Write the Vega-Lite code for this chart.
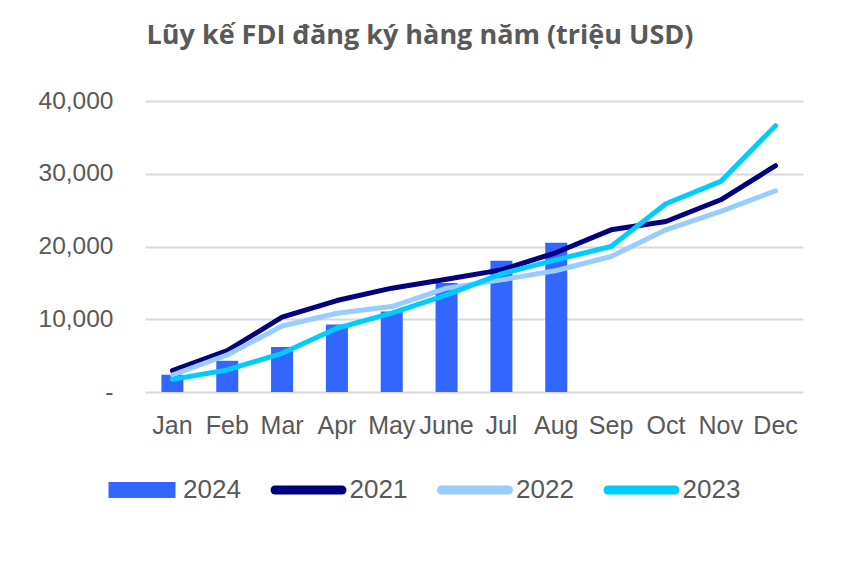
{
  "$schema": "https://vega.github.io/schema/vega-lite/v6.json",
  "width": 658,
  "height": 291,
  "autosize": "none",
  "padding": {"left": 145, "top": 101, "right": 42, "bottom": 179},
  "background": "white",
  "title": {
    "text": "Lũy kế FDI đăng ký hàng năm (triệu USD)",
    "font": "Open Sans",
    "fontSize": 27,
    "fontWeight": "bold",
    "color": "#595959",
    "anchor": "middle",
    "frame": "group",
    "baseline": "alphabetic",
    "offset": 17,
    "dx": -54
  },
  "config": {
    "view": {"stroke": null},
    "font": "Liberation Sans"
  },
  "data": {
    "values": [
      {"month": "Jan", "year": "2024", "value": 2360},
      {"month": "Feb", "year": "2024", "value": 4290},
      {"month": "Mar", "year": "2024", "value": 6170},
      {"month": "Apr", "year": "2024", "value": 9270},
      {"month": "May", "year": "2024", "value": 11070},
      {"month": "June", "year": "2024", "value": 15000},
      {"month": "Jul", "year": "2024", "value": 18050},
      {"month": "Aug", "year": "2024", "value": 20520},
      {"month": "Jan", "year": "2021", "value": 2940},
      {"month": "Feb", "year": "2021", "value": 5690},
      {"month": "Mar", "year": "2021", "value": 10280},
      {"month": "Apr", "year": "2021", "value": 12570},
      {"month": "May", "year": "2021", "value": 14270},
      {"month": "June", "year": "2021", "value": 15500},
      {"month": "Jul", "year": "2021", "value": 16790},
      {"month": "Aug", "year": "2021", "value": 19170},
      {"month": "Sep", "year": "2021", "value": 22290},
      {"month": "Oct", "year": "2021", "value": 23440},
      {"month": "Nov", "year": "2021", "value": 26420},
      {"month": "Dec", "year": "2021", "value": 31100},
      {"month": "Jan", "year": "2022", "value": 2340},
      {"month": "Feb", "year": "2022", "value": 5090},
      {"month": "Mar", "year": "2022", "value": 9080},
      {"month": "Apr", "year": "2022", "value": 10830},
      {"month": "May", "year": "2022", "value": 11740},
      {"month": "June", "year": "2022", "value": 14270},
      {"month": "Jul", "year": "2022", "value": 15410},
      {"month": "Aug", "year": "2022", "value": 16700},
      {"month": "Sep", "year": "2022", "value": 18620},
      {"month": "Oct", "year": "2022", "value": 22290},
      {"month": "Nov", "year": "2022", "value": 24820},
      {"month": "Dec", "year": "2022", "value": 27660},
      {"month": "Jan", "year": "2023", "value": 1740},
      {"month": "Feb", "year": "2023", "value": 3030},
      {"month": "Mar", "year": "2023", "value": 5320},
      {"month": "Apr", "year": "2023", "value": 8760},
      {"month": "May", "year": "2023", "value": 10830},
      {"month": "June", "year": "2023", "value": 13350},
      {"month": "Jul", "year": "2023", "value": 16240},
      {"month": "Aug", "year": "2023", "value": 18170},
      {"month": "Sep", "year": "2023", "value": 20000},
      {"month": "Oct", "year": "2023", "value": 25870},
      {"month": "Nov", "year": "2023", "value": 28950},
      {"month": "Dec", "year": "2023", "value": 36610}
    ]
  },
  "encoding": {
    "x": {
      "field": "month",
      "type": "ordinal",
      "sort": ["Jan", "Feb", "Mar", "Apr", "May", "June", "Jul", "Aug", "Sep", "Oct", "Nov", "Dec"],
      "scale": {"paddingInner": 0, "paddingOuter": 0},
      "axis": {
        "title": null,
        "domain": false,
        "ticks": false,
        "labelAngle": 0,
        "labelFont": "Liberation Sans",
        "labelFontSize": 25,
        "labelColor": "#595959",
        "labelPadding": 21,
        "labelOverlap": false,
        "labelBound": false
      }
    },
    "y": {
      "field": "value",
      "type": "quantitative",
      "scale": {"domain": [0, 40000], "nice": false},
      "axis": {
        "title": null,
        "domain": false,
        "ticks": false,
        "values": [0, 10000, 20000, 30000, 40000],
        "labelExpr": "datum.value == 0 ? '-\u00a0\u00a0' : format(datum.value, ',')",
        "labelFont": "Liberation Sans",
        "labelFontSize": 24.5,
        "labelColor": "#595959",
        "labelPadding": 32,
        "grid": true,
        "gridColor": "#d9d9d9",
        "gridWidth": 2
      }
    },
    "color": {
      "field": "year",
      "type": "nominal",
      "scale": {
        "domain": ["2024", "2021", "2022", "2023"],
        "range": ["#3366FF", "#000080", "#99CCFF", "#00CCFF"]
      },
      "legend": {
        "title": null,
        "orient": "none",
        "legendX": -16,
        "legendY": 376,
        "direction": "horizontal",
        "gridAlign": "none",
        "symbolType": "stroke",
        "symbolSize": 4489,
        "symbolStrokeWidth": 16,
        "labelFont": "Liberation Sans",
        "labelFontSize": 26,
        "labelColor": "#595959",
        "labelOffset": 28,
        "columnPadding": 29.5,
        "encode": {
          "symbols": {
            "update": {
              "stroke": {"scale": "color", "field": "value"},
              "fill": {"value": "transparent"},
              "strokeJoin": {"value": "round"},
              "strokeWidth": {"signal": "datum.label == '2024' ? 16 : 9"},
              "strokeCap": {"signal": "datum.label == '2024' ? 'butt' : 'round'"}
            }
          }
        }
      }
    }
  },
  "layer": [
    {
      "transform": [{"filter": "datum.year == '2024'"}],
      "mark": {"type": "bar", "width": 22}
    },
    {
      "transform": [{"filter": "datum.year != '2024'"}],
      "mark": {"type": "line", "strokeWidth": 5, "strokeCap": "round", "strokeJoin": "round"}
    }
  ]
}
